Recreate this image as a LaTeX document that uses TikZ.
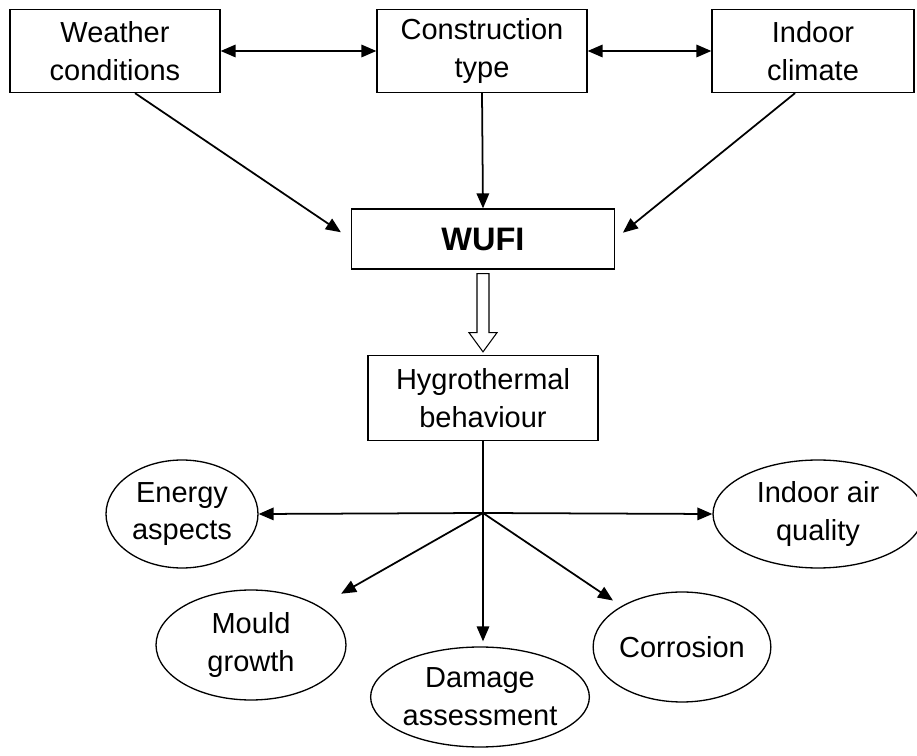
\documentclass[tikz,border=0pt]{standalone}
\usepackage{fontspec}
\setmainfont{Liberation Sans}
\usetikzlibrary{arrows.meta,calc,shapes.geometric}

\begin{document}
\begin{tikzpicture}[x=0.02cm,y=-0.02cm,line width=1pt,>=Stealth,
  txt/.style={font=\fontsize{16.5}{21.5}\selectfont,align=center,inner sep=0},
  box/.style={txt,draw,line width=0.75pt,minimum height=1.66cm},
  oval/.style={txt,ellipse,draw,line width=0.75pt},
  link/.style={line width=1pt,-{Triangle[length=0.3cm,width=0.25cm]}},
  both/.style={line width=1pt,{Triangle[length=0.3cm,width=0.25cm]}-{Triangle[length=0.3cm,width=0.25cm]}},
  hollow/.style={line width=0.6pt,fill=white,line join=miter}]
\useasboundingbox (0,0) rectangle (917,756);
% ---------- inputs ----------
\node[box,minimum width=4.2cm]  (weather)   at (115,51) {Weather\\conditions};
\node[box,minimum width=4.2cm]  (construct) at (482,51) {Construction\\type};
\node[box,minimum width=4.04cm] (indoor)    at (813,51) {Indoor\\climate};
\draw[both] (weather.east) -- (construct.west);
\draw[both] (construct.east) -- (indoor.west);
% ---------- simulation ----------
\node[box,minimum width=5.26cm,minimum height=1.2cm,
  font=\fontsize{18.5}{19}\selectfont\bfseries] (wufi) at (483,239) {WUFI};
\draw[link,shorten >=0.24cm] ([xshift=0.4cm]weather.south) -- (wufi.west);
\draw[link] (construct.south) -- (wufi.north);
\draw[link,shorten >=0.2cm] ([xshift=-0.36cm]indoor.south) -- (wufi.east);
\node[box,minimum width=4.6cm,minimum height=1.7cm] (hygro) at (483,398) {Hygrothermal\\behaviour};
% hollow arrow between WUFI and results
\draw[hollow] ($(wufi.south)+(-6,4)$) -- ($(wufi.south)+(6,4)$) -- ($(wufi.south)+(6,63)$)
  -- ($(wufi.south)+(14,63)$) -- ($(hygro.north)+(0,-3)$) -- ($(wufi.south)+(-14,63)$)
  -- ($(wufi.south)+(-6,63)$) -- cycle;
% ---------- consequences ----------
\coordinate (hub) at (483,513);
\node[oval,minimum width=3.04cm,minimum height=2.16cm] (energy) at (182,514) {Energy\\aspects};
\node[oval,minimum width=4.2cm,minimum height=2.16cm]  (air)    at (818,514) {Indoor air\\quality};
\node[oval,minimum width=3.8cm,minimum height=2.2cm]   (mould)  at (251,645) {Mould\\growth};
\node[oval,minimum width=4.28cm,minimum height=2.0cm]  (damage) at (480,697) {Damage\\assessment};
\node[oval,minimum width=3.4cm,minimum height=2.2cm]   (corros) at (682,647) {Corrosion};
\draw[line width=1pt] (hygro.south) -- (hub);
\draw[link] (hub) -- (energy.east);
\draw[link] (hub) -- (air.west);
\draw[link,shorten >=0.5cm] (hub) -- (mould);
\draw[link,shorten >=0.1cm] (hub) -- (hub |- damage.north);
\draw[link,shorten >=0.2cm] (hub) -- (corros);
\end{tikzpicture}
\end{document}
